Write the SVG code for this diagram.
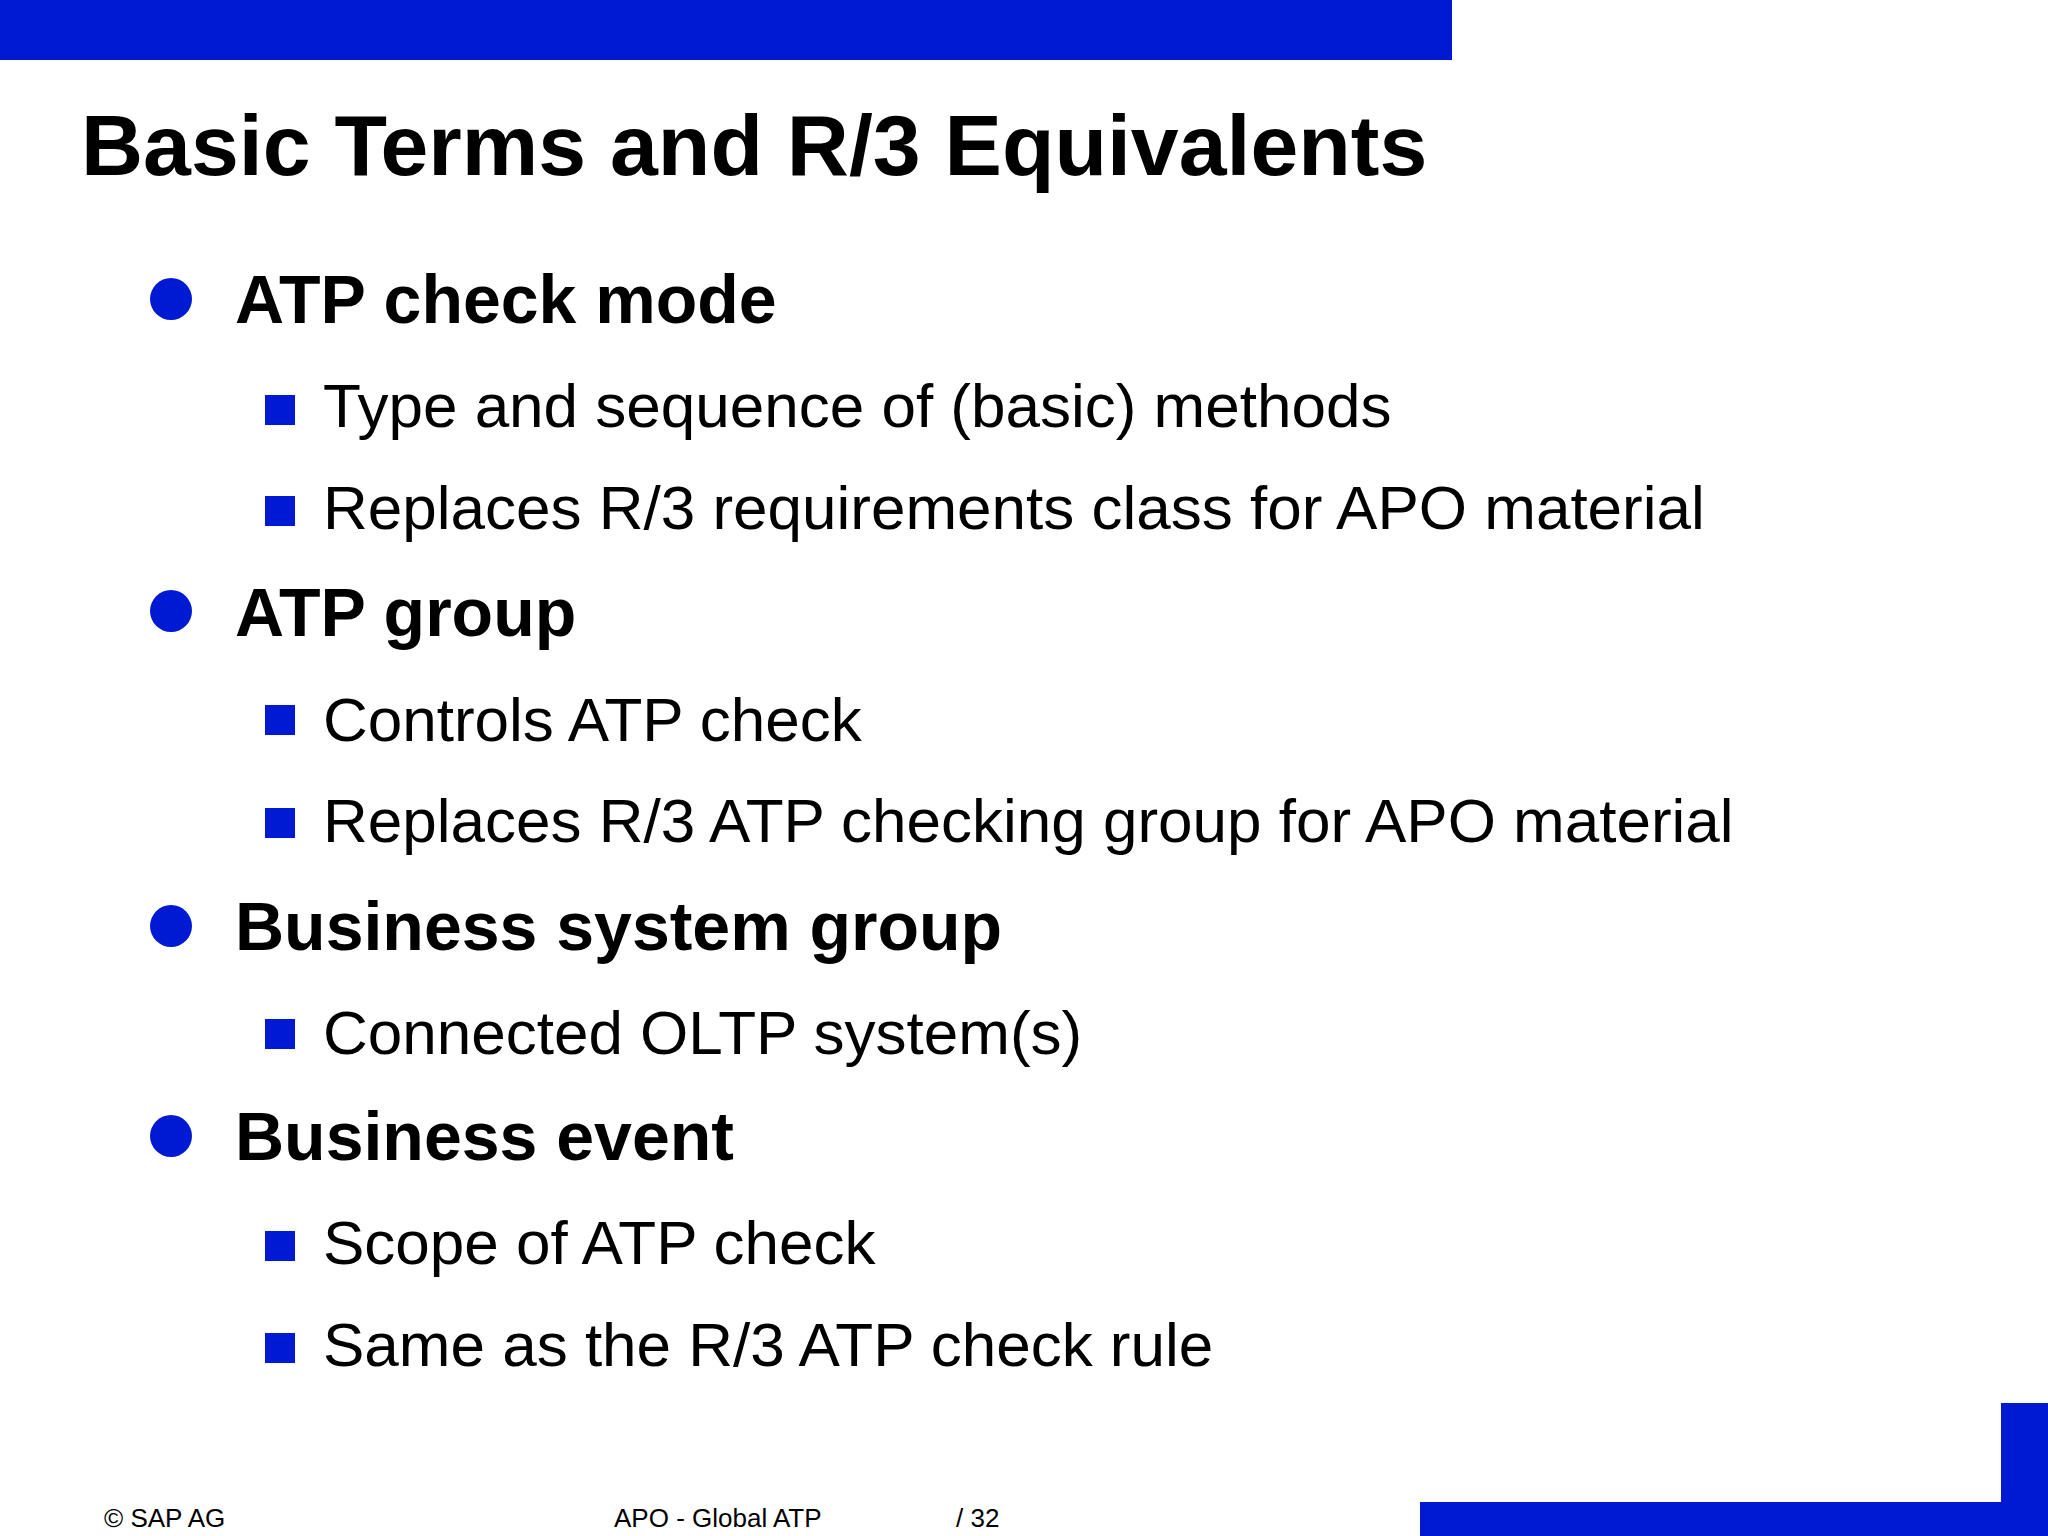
<svg xmlns="http://www.w3.org/2000/svg" width="2048" height="1536" viewBox="0 0 2048 1536">
<style>
.b{fill:#0019d2}
.h{font-family:"Liberation Sans",Arial,sans-serif;font-weight:bold;font-size:68px;fill:#000}
.s{font-family:"Liberation Sans",Arial,sans-serif;font-size:62px;fill:#000}
.f{font-family:"Liberation Sans",Arial,sans-serif;font-size:26px;fill:#000}
</style>
<rect width="2048" height="1536" fill="#fff"/>
<rect class="b" x="0" y="0" width="1452" height="60"/>
<text x="81" y="175" font-family="Liberation Sans,Arial,sans-serif" font-weight="bold" font-size="86" fill="#000">Basic Terms and R/3 Equivalents</text>
<g id="n1"><circle class="b" cx="171" cy="299" r="21"/><text class="h" x="235" y="323">ATP check mode</text></g>
<g id="n1a"><rect class="b" x="265" y="395" width="30" height="30"/><text class="s" x="323" y="427">Type and sequence of (basic) methods</text></g>
<g id="n1b"><rect class="b" x="265" y="496" width="30" height="30"/><text class="s" x="323" y="529">Replaces R/3 requirements class for APO material</text></g>
<g id="n2"><circle class="b" cx="171" cy="611" r="21"/><text class="h" x="235" y="636">ATP group</text></g>
<g id="n2a"><rect class="b" x="265" y="705" width="30" height="30"/><text class="s" x="323" y="741">Controls ATP check</text></g>
<g id="n2b"><rect class="b" x="265" y="808" width="30" height="30"/><text class="s" x="323" y="842">Replaces R/3 ATP checking group for APO material</text></g>
<g id="n3"><circle class="b" cx="171" cy="926" r="21"/><text class="h" x="235" y="950">Business system group</text></g>
<g id="n3a"><rect class="b" x="265" y="1019" width="30" height="30"/><text class="s" x="323" y="1054">Connected OLTP system(s)</text></g>
<g id="n4"><circle class="b" cx="171" cy="1136" r="21"/><text class="h" x="235" y="1160">Business event</text></g>
<g id="n4a"><rect class="b" x="265" y="1231" width="30" height="30"/><text class="s" x="323" y="1264">Scope of ATP check</text></g>
<g id="n4b"><rect class="b" x="265" y="1333" width="30" height="30"/><text class="s" x="323" y="1366">Same as the R/3 ATP check rule</text></g>
<rect class="b" x="2001" y="1403" width="47" height="133"/>
<rect class="b" x="1420" y="1502" width="628" height="34"/>
<text class="f" x="104" y="1527">©  SAP AG</text>
<text class="f" x="614" y="1527">APO - Global ATP</text>
<text class="f" x="956" y="1527">/ 32</text>
<g id="connectors"/>
</svg>
